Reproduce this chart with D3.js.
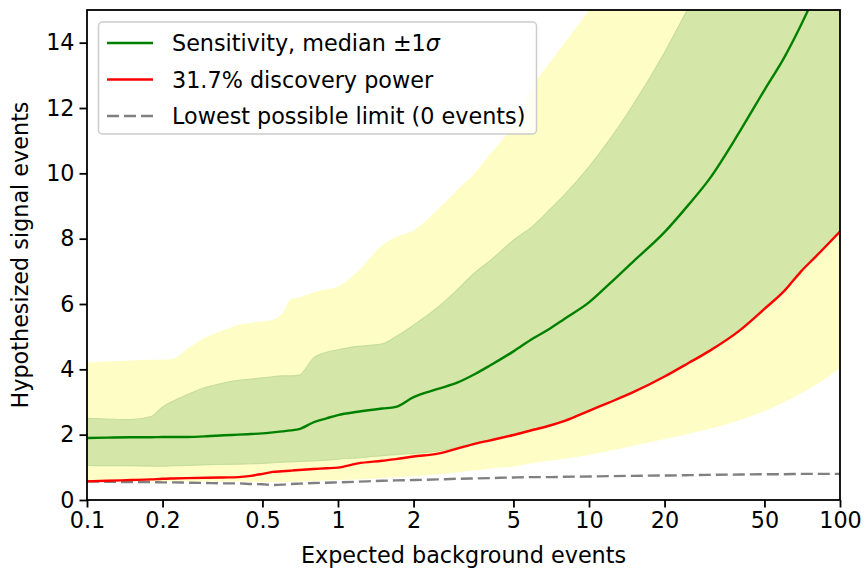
<!DOCTYPE html>
<html>
<head>
<meta charset="utf-8">
<script src="https://cdn.jsdelivr.net/npm/d3@7"></script>
<style>
  html, body { margin: 0; padding: 0; background: #fff; }
  svg { display: block; font-family: "DejaVu Sans", sans-serif; }
</style>
</head>
<body>
<svg id="chart" width="866" height="572"></svg>
<script>
// Expected background events (x grid shared by all series)
const background = [0.1, 0.12, 0.15, 0.18, 0.2, 0.22, 0.25, 0.3, 0.35, 0.4, 0.45, 0.5, 0.55, 0.6, 0.65, 0.7, 0.8, 0.9,
  1, 1.2, 1.5, 1.7, 2, 2.5, 3, 3.5, 4, 5, 6, 7, 8, 10, 12, 15, 20, 25, 30, 40, 50, 60, 70, 80, 100];

// Sensitivity: median and ±1σ / ±2σ bands
const sensMedian = [1.90, 1.91, 1.92, 1.92, 1.93, 1.93, 1.93, 1.95, 1.98, 2.00, 2.02, 2.04, 2.07, 2.10, 2.13, 2.17, 2.38, 2.50,
  2.60, 2.70, 2.80, 2.85, 3.15, 3.40, 3.60, 3.85, 4.10, 4.55, 4.95, 5.25, 5.55, 6.05, 6.60, 7.30, 8.20, 9.05, 9.80, 11.30, 12.55, 13.55, 14.55, 15.50, 17.20];
const sensLow1 = [1.06, 1.05, 1.05, 1.04, 1.04, 1.05, 1.06, 1.08, 1.09, 1.10, 1.11, 1.12, 1.14, 1.16, 1.17, 1.18, 1.20, 1.22,
  1.25, 1.29, 1.36, 1.39, 1.43, 1.50, 1.62, 1.74, 1.84, 2.00, 2.16, 2.29, 2.43, 2.74, 2.99, 3.31, 3.79, 4.21, 4.56, 5.21, 5.86, 6.41, 7.01, 7.46, 8.23];
const sensHigh1 = [2.50, 2.48, 2.46, 2.55, 2.85, 3.02, 3.22, 3.46, 3.58, 3.66, 3.70, 3.74, 3.77, 3.80, 3.80, 3.82, 4.35, 4.52,
  4.60, 4.70, 4.78, 5.00, 5.35, 5.90, 6.45, 6.95, 7.30, 7.95, 8.40, 8.90, 9.35, 10.20, 11.00, 12.10, 13.70, 15.10, 16.30, 18.00, 19.50, 21.00, 22.00, 23.00, 25.00];
const sensLow2 = [0.57, 0.57, 0.57, 0.57, 0.57, 0.57, 0.57, 0.57, 0.57, 0.57, 0.56, 0.55, 0.55, 0.55, 0.56, 0.57, 0.58, 0.60,
  0.61, 0.63, 0.67, 0.70, 0.73, 0.78, 0.85, 0.90, 0.96, 1.02, 1.13, 1.20, 1.26, 1.38, 1.50, 1.66, 1.87, 2.03, 2.17, 2.45, 2.72, 3.00, 3.27, 3.52, 4.04];
const sensHigh2 = [4.21, 4.24, 4.27, 4.29, 4.30, 4.32, 4.62, 5.00, 5.20, 5.36, 5.42, 5.47, 5.52, 5.70, 6.15, 6.20, 6.36, 6.45,
  6.53, 7.00, 7.80, 8.05, 8.25, 8.90, 9.50, 10.00, 10.55, 11.50, 12.70, 13.40, 14.00, 15.00, 16.00, 17.20, 19.00, 20.50, 22.00, 24.00, 26.00, 28.00, 29.00, 30.00, 32.00];

// 31.7% discovery power
const discoveryPower = [0.57, 0.59, 0.61, 0.63, 0.65, 0.66, 0.67, 0.68, 0.69, 0.70, 0.74, 0.80, 0.86, 0.88, 0.90, 0.92, 0.95, 0.97,
  0.99, 1.12, 1.20, 1.25, 1.33, 1.42, 1.58, 1.72, 1.82, 1.99, 2.15, 2.28, 2.42, 2.73, 2.98, 3.30, 3.78, 4.20, 4.55, 5.20, 5.85, 6.40, 7.00, 7.45, 8.22];

// Lowest possible limit (0 events observed)
const lowestLimit = [0.57, 0.56, 0.55, 0.55, 0.54, 0.54, 0.53, 0.52, 0.51, 0.51, 0.49, 0.48, 0.46, 0.47, 0.49, 0.50, 0.52, 0.53,
  0.54, 0.56, 0.59, 0.60, 0.61, 0.63, 0.65, 0.66, 0.67, 0.69, 0.70, 0.70, 0.71, 0.72, 0.73, 0.74, 0.75, 0.76, 0.77, 0.78, 0.79, 0.79, 0.80, 0.80, 0.80];

const xTicks = [0.1, 0.2, 0.5, 1, 2, 5, 10, 20, 50, 100];
const xTickLabels = ["0.1", "0.2", "0.5", "1", "2", "5", "10", "20", "50", "100"];
const yTicks = [0, 2, 4, 6, 8, 10, 12, 14];

const legendLabels = ["Sensitivity, median \u00b11", "31.7% discovery power", "Lowest possible limit (0 events)"];

const margin = { left: 87, right: 26, top: 10, bottom: 72 };
const W = 866, H = 572;
const svg = d3.select("#chart");

const x = d3.scaleLog().domain([0.1, 100]).range([margin.left, W - margin.right]);
const y = d3.scaleLinear().domain([0, 15]).range([H - margin.bottom, margin.top]);

const FONT = 22.3;

svg.append("defs").append("clipPath").attr("id", "plotClip")
  .append("rect")
  .attr("x", x.range()[0]).attr("y", y.range()[1])
  .attr("width", x.range()[1] - x.range()[0])
  .attr("height", y.range()[0] - y.range()[1]);

const rows = background.map((b, i) => ({
  b, med: sensMedian[i], lo1: sensLow1[i], hi1: sensHigh1[i], lo2: sensLow2[i], hi2: sensHigh2[i],
  disc: discoveryPower[i], low: lowestLimit[i]
}));

const plot = svg.append("g").attr("clip-path", "url(#plotClip)");
const curve = d3.curveMonotoneX;

// ±2σ band
plot.append("path").datum(rows)
  .attr("fill", "#fffdc6")
  .attr("d", d3.area().curve(curve).x(d => x(d.b)).y0(d => y(d.lo2)).y1(d => y(d.hi2)));

// ±1σ band
plot.append("path").datum(rows)
  .attr("fill", "#d4e7a9")
  .attr("stroke", "#c6de9b")
  .attr("stroke-width", 1.2)
  .attr("d", d3.area().curve(curve).x(d => x(d.b)).y0(d => y(d.lo1)).y1(d => y(d.hi1)));

const line = key => d3.line().curve(curve).x(d => x(d.b)).y(d => y(d[key]));

plot.append("path").datum(rows)
  .attr("fill", "none").attr("stroke", "#808080").attr("stroke-width", 2.4)
  .attr("stroke-dasharray", "12,5")
  .attr("d", line("low"));

plot.append("path").datum(rows)
  .attr("fill", "none").attr("stroke", "#ff0000").attr("stroke-width", 2.4)
  .attr("d", line("disc"));

plot.append("path").datum(rows)
  .attr("fill", "none").attr("stroke", "#008000").attr("stroke-width", 2.4)
  .attr("d", line("med"));

// Axes
const xAxis = d3.axisBottom(x).tickValues(xTicks).tickFormat((d, i) => xTickLabels[i]).tickSize(7.5).tickPadding(5);
const yAxis = d3.axisLeft(y).tickValues(yTicks).tickFormat(d3.format("d")).tickSize(7.5).tickPadding(5);

const gx = svg.append("g").attr("transform", `translate(0,${y.range()[0]})`).call(xAxis);
const gy = svg.append("g").attr("transform", `translate(${x.range()[0]},0)`).call(yAxis);
[gx, gy].forEach(g => {
  g.select(".domain").remove();
  g.selectAll(".tick line").attr("stroke", "#000").attr("stroke-width", 1.8);
  g.selectAll(".tick text").attr("fill", "#000").style("font-size", FONT + "px").style("font-family", "DejaVu Sans");
});

// Frame
svg.append("rect")
  .attr("x", x.range()[0]).attr("y", y.range()[1])
  .attr("width", x.range()[1] - x.range()[0])
  .attr("height", y.range()[0] - y.range()[1])
  .attr("fill", "none").attr("stroke", "#000").attr("stroke-width", 1.8);

// Axis titles
svg.append("text")
  .attr("x", (x.range()[0] + x.range()[1]) / 2).attr("y", 563)
  .attr("text-anchor", "middle").style("font-size", FONT + "px")
  .text("Expected background events");

svg.append("text")
  .attr("transform", `translate(28,${(y.range()[0] + y.range()[1]) / 2}) rotate(-90)`)
  .attr("text-anchor", "middle").style("font-size", FONT + "px")
  .text("Hypothesized signal events");

// Legend
const legend = svg.append("g");
legend.append("rect")
  .attr("x", 98.5).attr("y", 22).attr("width", 438).attr("height", 112)
  .attr("rx", 4).attr("fill", "#fff").attr("fill-opacity", 0.8)
  .attr("stroke", "#cccccc").attr("stroke-width", 1.5);

const legendItems = [
  { label: legendLabels[0], color: "#008000", dash: null, sigma: true },
  { label: legendLabels[1], color: "#ff0000", dash: null },
  { label: legendLabels[2], color: "#808080", dash: "12,5" }
];
legendItems.forEach((it, i) => {
  const cy = 43 + i * 36.5;
  legend.append("line")
    .attr("x1", 107).attr("x2", 153).attr("y1", cy).attr("y2", cy)
    .attr("stroke", it.color).attr("stroke-width", 2.4)
    .attr("stroke-dasharray", it.dash);
  const t = legend.append("text")
    .attr("x", 172).attr("y", cy).attr("dy", "0.36em")
    .style("font-size", FONT + "px")
    .text(it.label);
  if (it.sigma) t.append("tspan").style("font-style", "italic").text("\u03c3");
});
</script>
</body>
</html>
